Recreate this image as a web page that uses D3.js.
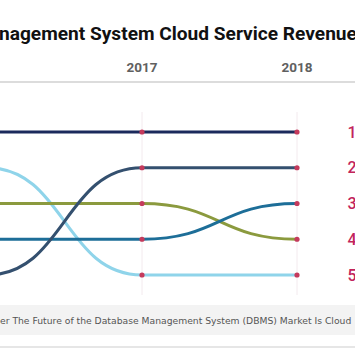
<!DOCTYPE html>
<html>
<head>
<meta charset="utf-8">
<script src="https://cdn.jsdelivr.net/npm/d3@7"></script>
<style>
html,body{margin:0;padding:0;background:#fff;overflow:hidden;}
svg{display:block;}
</style>
</head>
<body>
<svg id="chart" width="355" height="355"></svg>
<script>
const years = [2016, 2017, 2018];
const yearLabels = ["2017", "2018"];
const labelYears = [2017, 2018];
const rankLabels = ["1", "2", "3", "4", "5"];
const seriesNames = ["Series A", "Series B", "Series C", "Series D", "Series E"];
const rankA = [1, 1, 1];
const rankB = [5, 2, 2];
const rankC = [3, 3, 4];
const rankD = [4, 4, 3];
const rankE = [2, 5, 5];
const seriesColors = ["#1b2a5c", "#34506f", "#8b9a3e", "#1d6e98", "#8fd4ea"];
const titleText = "Database Management System Cloud Service Revenue Ranking";
const titleHidden = "Database Ma";
const sourceText = "Source: Gartner The Future of the Database Management System (DBMS) Market Is Cloud";
const sourceHidden = "Source: Gartn";

const series = [rankA, rankB, rankC, rankD, rankE].map((r, i) => ({
  name: seriesNames[i], color: seriesColors[i],
  values: r.map((v, j) => ({year: years[j], rank: v}))
}));

const svg = d3.select("#chart");
const x = d3.scaleLinear().domain([2016, 2018]).range([-13, 297]);
const y = d3.scaleLinear().domain([1, 5]).range([132, 275]);

function measure(txt, font, size, weight) {
  const t = svg.append("text").attr("font-family", font).attr("font-size", size)
    .attr("font-weight", weight).text(txt);
  const w = t.node().getComputedTextLength();
  t.remove();
  return w;
}

// Title
const tFont = "Roboto, 'DejaVu Sans', sans-serif";
const visTitle = "nagement System Cloud Service Revenue";
let tSize = 19 * 358 / measure(visTitle, tFont, 19, 700);
const tOff = measure(titleHidden, tFont, tSize, 700);
svg.append("text").attr("x", -tOff - 1).attr("y", 40)
  .attr("font-family", tFont).attr("font-size", tSize).attr("font-weight", 700)
  .attr("fill", "#111").text(titleText);

// year labels
svg.append("g").selectAll("text").data(labelYears).join("text")
  .attr("x", d => x(d)).attr("y", 72).attr("text-anchor", "middle")
  .attr("font-family", "Roboto, sans-serif").attr("font-size", 13.5).attr("font-weight", 700)
  .attr("fill", "#606060").text((d, i) => yearLabels[i]);

// rule under header
svg.append("line").attr("x1", 0).attr("x2", 355).attr("y1", 82).attr("y2", 82)
  .attr("stroke", "#dcdcdc").attr("stroke-width", 2);

// vertical grid lines
svg.append("g").selectAll("line").data(years).join("line")
  .attr("x1", d => x(d)).attr("x2", d => x(d)).attr("y1", 112).attr("y2", 295)
  .attr("stroke", "#f3eaee").attr("stroke-width", 1);

// lines
const line = d3.line().curve(d3.curveBumpX).x(d => x(d.year)).y(d => y(d.rank));
const order = [4, 2, 3, 1, 0];
svg.append("g").selectAll("path").data(order.map(i => series[i])).join("path")
  .attr("d", d => line(d.values)).attr("fill", "none")
  .attr("stroke", d => d.color).attr("stroke-width", 3);

// dots
const pts = series.flatMap(s => s.values);
svg.append("g").selectAll("circle").data(pts).join("circle")
  .attr("cx", d => x(d.year)).attr("cy", d => y(d.rank)).attr("r", 2.6)
  .attr("fill", "#c43a5c");

// rank labels
svg.append("g").selectAll("text").data(rankLabels).join("text")
  .attr("x", 347.5).attr("y", (d, i) => y(i + 1) + 5.5)
  .attr("font-family", "Roboto, sans-serif").attr("font-size", 16).attr("font-weight", 500)
  .attr("fill", "#c2255c").text(d => d);

// footer band
svg.append("rect").attr("x", 0).attr("y", 305).attr("width", 355).attr("height", 30)
  .attr("fill", "#f3f3f3");
const sFont = "'DejaVu Sans', Verdana, sans-serif";
const visSource = "er The Future of the Database Management System (DBMS) Market Is Cloud";
const sSize = 11 * 352 / measure(visSource, sFont, 11, 400);
const sOff = measure(sourceHidden, sFont, sSize, 400);
svg.append("text").attr("x", -sOff).attr("y", 324)
  .attr("font-family", sFont).attr("font-size", sSize).attr("fill", "#555").text(sourceText);
svg.append("line").attr("x1", 0).attr("x2", 355).attr("y1", 347).attr("y2", 347)
  .attr("stroke", "#dedede").attr("stroke-width", 1.5);
</script>
</body>
</html>
